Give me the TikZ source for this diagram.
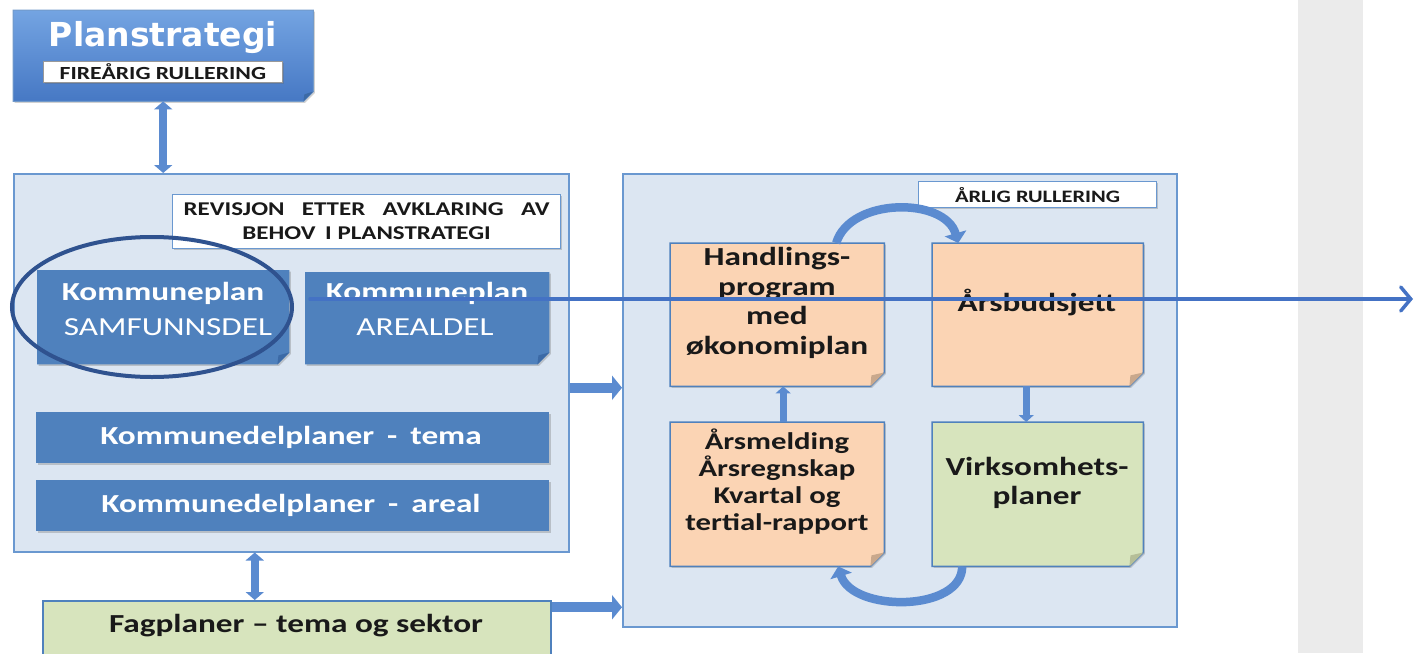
\documentclass[tikz,border=0pt]{standalone}
\usepackage{fontspec}
\setmainfont{Carlito}
\newfontfamily\cf[FakeStretch=1.28]{Carlito}
\newfontfamily\dv{DejaVu Sans}
\usetikzlibrary{arrows.meta,shadows,calc,shapes.geometric}
\definecolor{bblue}{HTML}{4F81BD}
\definecolor{lblue}{HTML}{DCE6F2}
\definecolor{bord}{HTML}{6A98D0}
\definecolor{peach}{HTML}{FBD4B4}
\definecolor{lgreen}{HTML}{D7E4BD}
\definecolor{arrowc}{HTML}{4472C4}
\definecolor{ellc}{HTML}{2F528F}
\definecolor{band}{HTML}{EBEBEB}
\definecolor{arr}{HTML}{5B8BD0}
\definecolor{pstop}{HTML}{74A4E2}
\definecolor{psbot}{HTML}{4678C4}
\definecolor{foldpeach}{HTML}{C9A88C}
\definecolor{foldgreen}{HTML}{B5BE98}
\definecolor{foldblue}{HTML}{3C6AA6}
\newcommand{\foldbox}[4]{%
  \path[#2] (#1.north west) -- (#1.north east) -- ([yshift=#4pt]#1.south east)
    -- ([xshift=-#4pt]#1.south east) -- (#1.south west) -- cycle;
  \fill[#3] ([yshift=#4pt]#1.south east) -- ([xshift=-#4pt]#1.south east)
    -- ([xshift=-#4pt+1pt,yshift=#4pt-3pt]#1.south east) -- cycle;}
\begin{document}
\begin{tikzpicture}[x=1pt,y=-1pt,
  box/.style={rectangle,inner sep=0pt,anchor=north west},
  shd/.style={drop shadow={shadow xshift=1.5pt,shadow yshift=-1.5pt,opacity=.3,fill=black!60}},
  wt/.style={text=white,font=\cf\bfseries\fontsize{26}{30}\selectfont},
  wtr/.style={text=white,font=\cf\fontsize{26}{30}\selectfont},
  bt/.style={text=black!90,font=\cf\bfseries\fontsize{26}{29.5}\selectfont,align=center},
  small/.style={text=black!90,font=\cf\bfseries\fontsize{17.5}{24}\selectfont,align=center},
  dbl/.style={line width=8pt,draw=arr,{Triangle[length=8pt,width=18pt]}-{Triangle[length=8pt,width=18pt]}},
  blk/.style={line width=10pt,draw=arr,-{Triangle[length=10pt,width=24pt]}},
  sm/.style={line width=7pt,draw=arr,-{Triangle[length=7pt,width=15pt]}},
  crv/.style={line width=8.5pt,draw=arr,-{Triangle[length=10pt,width=22pt]}},
  longarr/.style={line width=3.5pt,draw=arrowc,line cap=round,-{Straight Barb[length=10pt,width=24pt,line cap=round,line width=3.5pt]}}
]
\useasboundingbox (0,0) rectangle (1415,653);
\fill[band] (1298,0) rectangle (1363,653);

% Planstrategi
\node[box,minimum width=300pt,minimum height=91pt] (ps) at (13,10) {};
\foldbox{ps}{top color=pstop,bottom color=psbot,draw=bblue!80,line width=1pt,shd}{foldblue}{10}
\node[text=white,font=\dv\bfseries\fontsize{33}{36}\selectfont] (pst) at (163,38) {Planstrategi};
\node[box,minimum width=239pt,minimum height=21pt,fill=white,draw=black!40,line width=0.8pt,shd,small,font=\cf\bfseries\fontsize{18.5}{20}\selectfont] (fir) at (43,61) {FIREÅRIG RULLERING};

% left big box
\node[box,minimum width=555pt,minimum height=378pt,fill=lblue,draw=bord,line width=1.5pt,shd] (lb) at (13,173) {};
\draw[dbl] (ps.south) -- (ps.south |- lb.north);
\node[box,minimum width=388pt,minimum height=54pt,fill=white,draw=bord,line width=1.2pt,shd,small,font=\cf\bfseries\fontsize{19.5}{24}\selectfont] (rev) at (172,194) {REVISJON\hspace{0.6em} ETTER\hspace{0.6em} AVKLARING\hspace{0.6em} AV\\BEHOV\enspace I PLANSTRATEGI};

\node[box,minimum width=252pt,minimum height=94pt] (ks) at (37,270) {};
\foldbox{ks}{fill=bblue,shd}{foldblue}{12}
\node[wt] (kst1) at (163,293) {Kommuneplan};
\node[wtr] (kst2) at (168,327) {SAMFUNNSDEL};

\node[box,minimum width=244pt,minimum height=92pt] (ka) at (305,272) {};
\foldbox{ka}{fill=bblue,shd}{foldblue}{12}
\node[wt] (kat1) at (427,293) {Kommuneplan};
\node[wtr] (kat2) at (425,327) {AREALDEL};

\node[box,minimum width=513pt,minimum height=51pt,fill=bblue,shd] (kt) at (36,412) {};
\node[wt] (ktt) at (291,437) {Kommunedelplaner\enspace-\enspace tema};
\node[box,minimum width=513pt,minimum height=51pt,fill=bblue,shd] (kar) at (36,480) {};
\node[wt] (kart) at (291,505) {Kommunedelplaner\enspace-\enspace areal};

\node[draw=ellc,line width=4pt,ellipse,minimum width=280pt,minimum height=140pt,inner sep=0pt] (ell) at (152,307) {};

% Fagplaner
\node[box,minimum width=508pt,minimum height=56pt,fill=lgreen,draw=bblue,line width=1.5pt] (fag) at (42,600) {};
\node[bt] (fagt) at (296,626) {Fagplaner – tema og sektor};
\draw[dbl] ([xshift=-36.5pt]lb.south) -- ([xshift=-36.5pt]lb.south |- fag.north);

% right big box
\node[box,minimum width=554pt,minimum height=453pt,fill=lblue,draw=bord,line width=1.5pt,shd] (rb) at (622,173) {};
\draw[blk] ([yshift=-25pt]lb.east) -- ([yshift=-25pt]lb.east -| rb.west);
\draw[blk] ([yshift=21.5pt]fag.east) -- ([yshift=21.5pt]fag.east -| rb.west);

\node[box,minimum width=238pt,minimum height=26pt,fill=white,draw=bord,line width=1.2pt,shd,small] (arl) at (918,181) {ÅRLIG RULLERING};

\node[box,minimum width=214pt,minimum height=143pt] (hp) at (670,243) {};
\foldbox{hp}{fill=peach,draw=bblue,line width=1.5pt,shd}{foldpeach}{14}
\node[bt] (hpt) at (777,303) {Handlings-\\program\\med\\økonomiplan};

\node[box,minimum width=211pt,minimum height=143pt] (ab) at (932,243) {};
\foldbox{ab}{fill=peach,draw=bblue,line width=1.5pt,shd}{foldpeach}{14}
\node[bt] (abt) at (1037,303) {Årsbudsjett};

\node[box,minimum width=214pt,minimum height=144pt] (am) at (670,422) {};
\foldbox{am}{fill=peach,draw=bblue,line width=1.5pt,shd}{foldpeach}{14}
\node[bt,font=\cf\bfseries\fontsize{24}{27}\selectfont] (amt) at (777,482) {Årsmelding\\Årsregnskap\\Kvartal og\\tertial-rapport};

\node[box,minimum width=211pt,minimum height=144pt] (vp) at (932,422) {};
\foldbox{vp}{fill=lgreen,draw=bblue,line width=1.5pt,shd}{foldgreen}{14}
\node[bt] (vpt) at (1037,483) {Virksomhets-\\planer};

\draw[sm] ([xshift=6pt]am.north) -- ([xshift=6pt]hp.south);
\draw[sm] ([xshift=-11.5pt]ab.south) -- ([xshift=-11.5pt]vp.north);
\draw[crv] ([xshift=59pt]hp.north) .. controls +(14pt,46pt) and +(-13pt,46pt) .. ([xshift=-79.5pt]ab.north);
\draw[crv] ([xshift=-75.5pt]vp.south) .. controls +(0pt,-46pt) and +(14pt,-46pt) .. ([xshift=61pt]am.south);

% long arrow
\coordinate (ls) at (310,299);
\coordinate (le) at (1413,299);
\draw[longarr] (ls) -- (le);
\end{tikzpicture}
\end{document}
